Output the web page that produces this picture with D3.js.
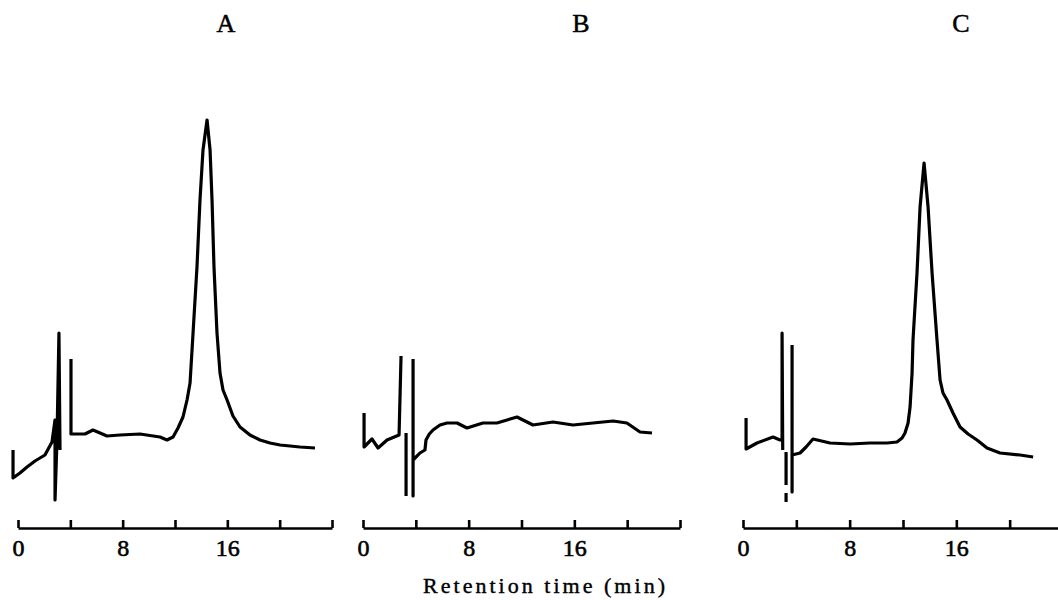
<!DOCTYPE html>
<html>
<head>
<meta charset="utf-8">
<script src="https://cdn.jsdelivr.net/npm/d3@7"></script>
<style>
  body { margin: 0; background: #fff; }
  text { font-family: "Liberation Serif", "DejaVu Serif", serif; fill: #000; }
</style>
</head>
<body>
<svg id="chart" width="1058" height="600"></svg>
<script>
// panel titles and axis ticks
const panelNames = ["A", "B", "C"];
const tickValues = [0, 4, 8, 12, 16, 20, 24];
const tickLabels = [0, 8, 16];
const axisLabel = "Retention time (min)";

// traces: [time (min), detector signal], null = pen lifted
const traceA = [
  [-0.38, 12.5], [-0.38, 5.5], [0.15, 6.75], [0.69, 8.25], [1.30, 9.75], [2.06, 11.25],
  [2.60, 14.5], [2.83, 20], [2.83, 0], [2.98, 15], [3.13, 41.75], [3.21, 12.5],
  null,
  [4.05, 35.25], [4.05, 16.5], [5.12, 16.5], [5.73, 17.5], [6.27, 16.75], [6.80, 16],
  [7.80, 16.25], [9.32, 16.5], [10.85, 15.75], [11.39, 15], [11.85, 15.75], [12.23, 18],
  [12.61, 20.75], [12.92, 25], [13.15, 29.25], [13.38, 41.75], [13.68, 58.25], [13.91, 75],
  [14.14, 87.5], [14.45, 95], [14.68, 87.5], [14.83, 75], [14.98, 58.25], [15.21, 41.75],
  [15.44, 31.75], [15.67, 27.5], [15.98, 25], [16.43, 21], [16.97, 18.25], [17.73, 16.25],
  [18.50, 15], [19.26, 14.25], [20.03, 13.75], [21.55, 13.25], [22.70, 13]
];

const traceB = [
  [0.08, 21.75], [0.08, 13.25], [0.68, 15.25], [1.14, 13], [1.82, 15], [2.73, 16.25],
  [2.88, 36],
  null,
  [3.26, 16.75], [3.26, 1],
  null,
  [3.79, 35.25], [3.79, 1], [3.79, 10], [3.94, 10.5], [4.31, 11.75], [4.69, 12.5],
  [4.77, 15], [5.02, 16.5], [5.30, 17.5], [5.83, 18.75], [6.36, 19.25], [7.12, 19.25],
  [7.87, 18], [9.08, 19.25], [10.14, 19.25], [11.66, 20.75], [12.87, 18.75], [14.38, 19.5],
  [15.90, 18.75], [17.41, 19.25], [18.93, 19.75], [19.98, 19.25], [20.97, 17], [21.88, 16.75]
];

const traceC = [
  [0.23, 20.5], [0.23, 12.75], [1.05, 14.25], [2.25, 15.75], [2.78, 15], [2.93, 15],
  [2.93, 41.75], [2.98, 12.5],
  null,
  [3.23, 12], [3.23, 3.75],
  null,
  [3.23, 1.75], [3.23, -0.5],
  null,
  [3.68, 38.75], [3.68, 2], [3.68, 11.25], [4.28, 11.75], [4.73, 13.25], [5.25, 15.25],
  [6.53, 14.25], [8.03, 14], [9.53, 14.25], [10.80, 14.25], [11.55, 14.5], [11.93, 15.5],
  [12.15, 16.75], [12.38, 19.25], [12.53, 23.25], [12.68, 31.75], [12.75, 40], [13.05, 56.75],
  [13.28, 73.25], [13.58, 84.25], [13.88, 73.25], [14.18, 56.75], [14.55, 40], [14.78, 30],
  [15.00, 26.75], [15.30, 25], [15.75, 21.75], [16.28, 18.25], [16.88, 16.5], [17.55, 15],
  [18.30, 13], [19.28, 11.75], [20.78, 11.25], [21.76, 10.75]
];

const traces = [traceA, traceB, traceC];

// layout
const axisY = 528;
const panelRanges = [[18, 332], [363, 680], [743, 1063]];
const titleX = [226, 581, 961];

const svg = d3.select("#chart");

const y = d3.scaleLinear()
    .domain([0, 100])
    .range([500, 100]);

panelNames.forEach((name, i) => {
    const x = d3.scaleLinear()
        .domain([0, 24])
        .range(panelRanges[i]);

    const g = svg.append("g");

    // axis with upward ticks
    const axis = g.append("g")
        .attr("transform", `translate(0,${axisY})`)
        .call(d3.axisBottom(x)
            .tickValues(tickValues)
            .tickSizeInner(-8)
            .tickSizeOuter(0)
            .tickPadding(11)
            .tickFormat(d => tickLabels.includes(d) ? d : ""));

    axis.select(".domain")
        .attr("stroke", "#000")
        .attr("stroke-width", 2.6);
    axis.selectAll(".tick line")
        .attr("stroke", "#000")
        .attr("stroke-width", 2.6);
    axis.selectAll(".tick text")
        .style("font-family", "'Liberation Serif', serif")
        .style("font-size", "24px")
        .attr("fill", "#000")
        .attr("stroke", "#000")
        .attr("stroke-width", 0.6);

    // trace
    const line = d3.line()
        .defined(d => d !== null)
        .x(d => x(d[0]))
        .y(d => y(d[1]));

    g.append("path")
        .datum(traces[i])
        .attr("fill", "none")
        .attr("stroke", "#000")
        .attr("stroke-width", 3.2)
        .attr("stroke-linejoin", "round")
        .attr("stroke-linecap", "butt")
        .attr("d", line);

    // panel title
    g.append("text")
        .attr("x", titleX[i])
        .attr("y", 32)
        .attr("text-anchor", "middle")
        .attr("stroke", "#000")
        .attr("stroke-width", 0.5)
        .style("font-size", "26px")
        .text(name);
});

svg.append("text")
    .attr("x", 544)
    .attr("y", 593)
    .attr("text-anchor", "middle")
    .attr("textLength", 242)
    .attr("lengthAdjust", "spacing")
    .attr("stroke", "#000")
    .attr("stroke-width", 0.4)
    .style("font-size", "22px")
    .text(axisLabel);
</script>
</body>
</html>
